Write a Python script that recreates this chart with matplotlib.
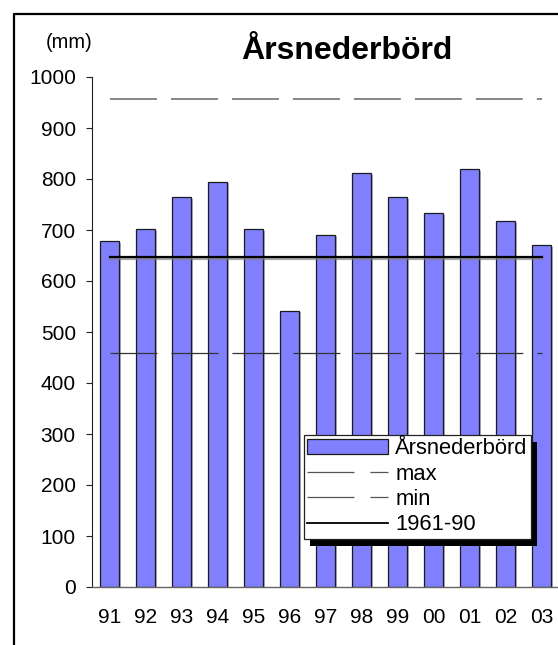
import matplotlib.pyplot as plt
import matplotlib.patheffects as pe
from matplotlib.lines import Line2D
from matplotlib.patches import Patch, Rectangle
import numpy as np

plt.rcParams['font.family'] = ['Liberation Sans', 'DejaVu Sans']
plt.rcParams['lines.scale_dashes'] = False

# Annual precipitation (mm)
years = ["91", "92", "93", "94", "95", "96", "97", "98", "99", "00", "01", "02", "03"]
rain = [678, 701, 764, 795, 701, 541, 690, 811, 764, 733, 819, 717, 670]
rain_max = 957
rain_min = 459
normal_6190 = 647

W, H = 558, 645
fig = plt.figure(figsize=(W / 100, H / 100), dpi=100)
ax = fig.add_axes([91.5 / W, (H - 587) / H, 468 / W, 510 / H])

x = np.arange(len(years))
bars = ax.bar(x, rain, width=0.52, color="#8080ff", edgecolor="#1a1a1a",
              linewidth=0.9, zorder=2, label="Årsnederbörd")
for b in bars:
    b.set_path_effects([pe.SimplePatchShadow(offset=(1.2, -1), shadow_rgbFace="gray", alpha=0.6),
                        pe.Normal()])

dash = (0, (33.8, 10.1))
ax.plot([x[0], x[-1]], [rain_max] * 2, color="#666666", lw=1.1, linestyle=dash, zorder=3)
ax.plot([x[0], x[-1]], [rain_min] * 2, color="#333333", lw=0.9, linestyle=dash, zorder=3)
ax.plot([x[0], x[-1]], [normal_6190] * 2, color="black", lw=1.6, zorder=3,
        path_effects=[pe.SimpleLineShadow(offset=(0, -1.5), shadow_color="gray", alpha=0.7),
                      pe.Normal()])

ax.set_xlim(-0.5, len(years) - 0.5)
ax.set_ylim(0, 1000)
ax.set_yticks(range(0, 1001, 100))
ax.set_xticks(x)
ax.set_xticklabels(years)
ax.tick_params(axis="y", length=4.3, width=0.8, pad=7, labelsize=15, color="#222222")
ax.tick_params(axis="x", length=0, pad=15, labelsize=15)
for s in ("top", "right"):
    ax.spines[s].set_visible(False)
ax.spines["left"].set_color("#222222")
ax.spines["left"].set_linewidth(0.8)
ax.spines["bottom"].set_color("#666666")
ax.spines["bottom"].set_linewidth(1.0)

fig.text(347 / W, 1 - 59 / H, "Årsnederbörd", ha="center", va="baseline",
         fontsize=23, fontweight="bold")
fig.text(69.5 / W, 1 - 42 / H, "(mm)", ha="center", va="center", fontsize=14.5)

# outer chart frame (left and top edges)
fig.add_artist(Line2D([13.5 / W, 13.5 / W, 1], [0, 1 - 13.5 / H, 1 - 13.5 / H],
                      transform=fig.transFigure, color="black", lw=1.6))

handles = [
    Patch(facecolor="#8080ff", edgecolor="#1a1a1a", linewidth=0.9),
    Line2D([], [], color="#555555", lw=0.9, linestyle=(0, (33.8, 11.5))),
    Line2D([], [], color="#555555", lw=0.9, linestyle=(0, (33.8, 11.5))),
    Line2D([], [], color="black", lw=1.3),
]
labels = ["Årsnederbörd", "max", "min", "1961-90"]
leg = ax.legend(handles, labels, loc="upper left", bbox_to_anchor=(304 / W, 1 - 435 / H),
                bbox_transform=fig.transFigure, borderaxespad=0, fontsize=15.8,
                handlelength=3.7, handleheight=0.7, handletextpad=0.3,
                labelspacing=0.2, borderpad=0.15, fancybox=False, framealpha=1,
                edgecolor="#222222")
leg.get_frame().set_linewidth(0.9)

fig.canvas.draw()
bb = leg.get_window_extent().transformed(fig.transFigure.inverted())
ax.add_patch(Rectangle((bb.x0 + 6 / W, bb.y0 - 7 / H), bb.width, bb.height,
                       transform=fig.transFigure, facecolor="black", edgecolor="none",
                       zorder=4.5, clip_on=False))

fig.savefig("out.png", dpi=100)
